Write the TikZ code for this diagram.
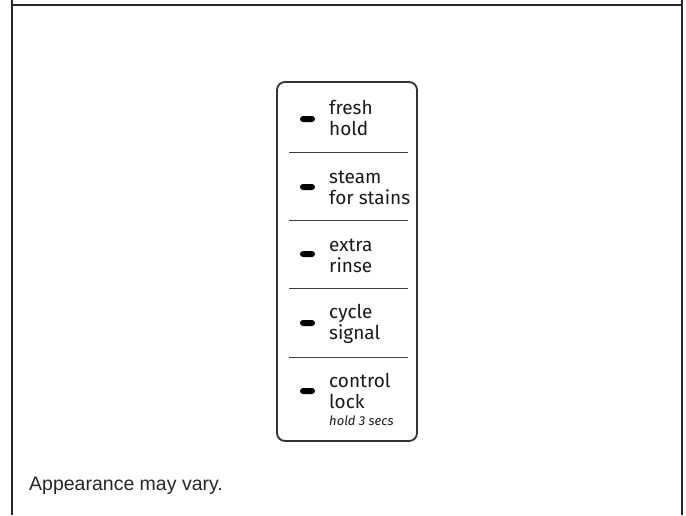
\documentclass[tikz,border=0pt]{standalone}
\usepackage{fontspec}
\setmainfont{Liberation Sans}
\newfontfamily\panelfont{Fira Sans}
\usetikzlibrary{positioning}

\begin{document}
\begin{tikzpicture}[x=1pt, y=-1pt,
    led/.style={fill=black, rounded corners=3pt, minimum width=15pt, minimum height=6pt, inner sep=0pt},
    btnlabel/.style={anchor=base west, align=left, inner sep=0pt, text=black!90,
        font=\panelfont\fontsize{19}{21}\selectfont},
    sep/.style={black!75, line width=0.9pt}]
    \useasboundingbox (0,0) rectangle (686,515);

    % Outer frame
    \draw[line width=2pt, black!85] (12,0) -- (12,515);
    \draw[line width=2pt, black!85] (682,0) -- (682,515);
    \draw[line width=2pt, black!85] (12,5) -- (682,5);

    % Option panel
    \draw[line width=1.8pt, black!80, rounded corners=8pt] (277,82) rectangle (417,441);

    % Buttons (label anchored at the baseline of its last line)
    \foreach \y/\base/\name/\txt in {119/135/fresh/{fresh\\hold},
                                     187/204/steam/{steam\\for stains},
                                     254/272/rinse/{extra\\rinse},
                                     323/339/signal/{cycle\\signal},
                                     391/425/lock/{control\\lock\\[-4pt]{\itshape\fontsize{13}{15}\selectfont hold 3 secs}}} {
        \node[led] (led-\name) at (307.5,\y) {};
        \node[btnlabel] (lbl-\name) at (329,\base) {\txt};
    }

    % Separators
    \foreach \y in {152,220,288,357} {
        \draw[sep] (289,\y) -- (408,\y);
    }

    \node[anchor=base west, inner sep=0pt, text=black!85, font=\fontsize{19.5}{22}\selectfont]
        (note) at (29,490) {Appearance may vary.};
\end{tikzpicture}
\end{document}
